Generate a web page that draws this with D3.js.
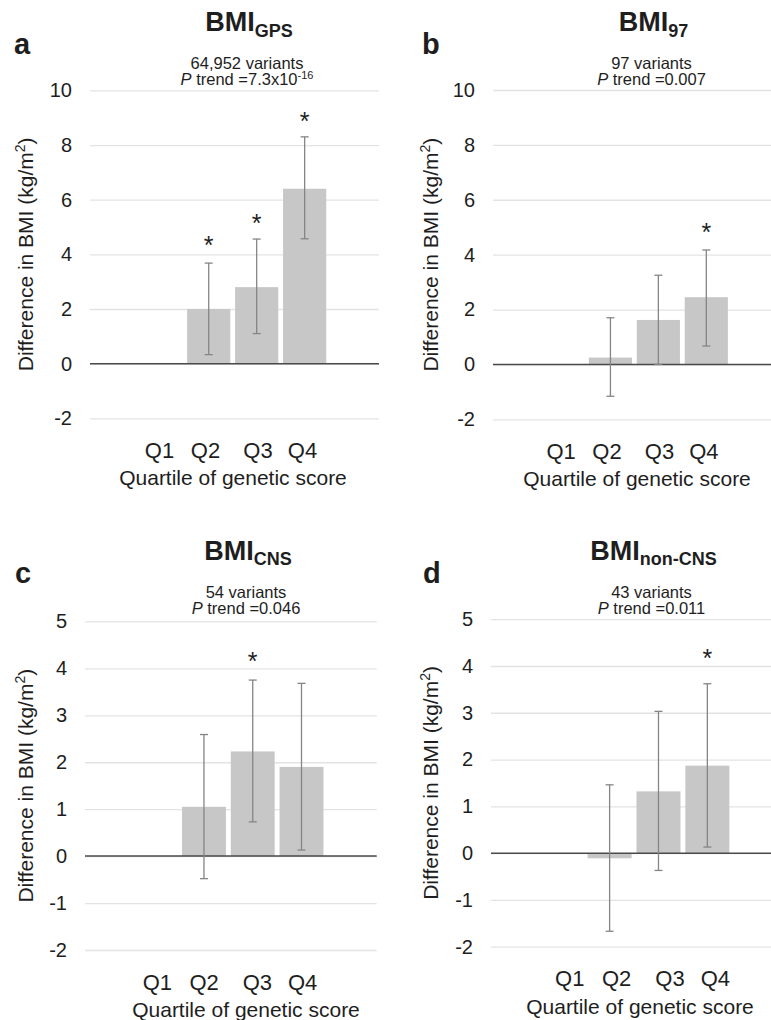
<!DOCTYPE html>
<html><head><meta charset="utf-8">
<script src="https://cdn.jsdelivr.net/npm/d3@7"></script>
<style>
body{margin:0;background:#fff}
svg{display:block}
text{font-family:"Liberation Sans",Arial,Helvetica,sans-serif;fill:#1e1e1e}
</style>
</head><body>
<svg id="chart" width="771" height="1020"></svg>
<script>
// ---------- data ----------
const categories = ["Q1", "Q2", "Q3", "Q4"];
const panelLetters = ["a", "b", "c", "d"];
const titleSub = ["GPS", "97", "CNS", "non-CNS"];
const variantLabels = ["64,952 variants", "97 variants", "54 variants", "43 variants"];
const pTrendValues = ["=7.3x10", "=0.007", "=0.046", "=0.011"];
const pTrendExp = ["-16", "", "", ""];
const yTicksTop = [-2, 0, 2, 4, 6, 8, 10];
const yTicksBottom = [-2, -1, 0, 1, 2, 3, 4, 5];
const xAxisTitle = "Quartile of genetic score";

const valuesGPS = [0, 2.0, 2.8, 6.4];
const lowerGPS  = [null, 0.33, 1.1, 4.57];
const upperGPS  = [null, 3.68, 4.56, 8.3];
const starsGPS  = [null, 4.44, 5.25, 9.0];

const values97 = [0, 0.25, 1.62, 2.45];
const lower97  = [null, -1.16, 0.0, 0.67];
const upper97  = [null, 1.7, 3.25, 4.17];
const stars97  = [null, null, null, 4.93];

const valuesCNS = [0, 1.05, 2.23, 1.90];
const lowerCNS  = [null, -0.48, 0.73, 0.13];
const upperCNS  = [null, 2.59, 3.75, 3.68];
const starsCNS  = [null, null, 4.23, null];

const valuesNonCNS = [0, -0.11, 1.32, 1.87];
const lowerNonCNS  = [null, -1.67, -0.37, 0.13];
const upperNonCNS  = [null, 1.46, 3.03, 3.62];
const starsNonCNS  = [null, null, null, 4.24];

// ---------- layout ----------
const panels = [
  {v: valuesGPS, lo: lowerGPS, hi: upperGPS, st: starsGPS, ticks: yTicksTop, dom: [-2, 10],
   gx: [90, 379], bx: [91.2, 374.2], yr: [418.3, 90.4], letter: [14, 54], titleX: 249, titleY: 31,
   subY: [69, 85], axX: 26, xlabDx: -1.2, xTitleX: 233},
  {v: values97, lo: lower97, hi: upper97, st: stars97, ticks: yTicksTop, dom: [-2, 10],
   gx: [493, 771], bx: [493, 775.8], yr: [419.3, 90], letter: [422, 54], titleX: 653.5, titleY: 31,
   subY: [69, 85], axX: 431, xlabDx: -1.4, xTitleX: 637},
  {v: valuesCNS, lo: lowerCNS, hi: upperCNS, st: starsCNS, ticks: yTicksBottom, dom: [-2, 5],
   gx: [85, 376.7], bx: [84.5, 372.2], yr: [950, 621.4], letter: [15, 583], titleX: 248, titleY: 559.5,
   subY: [597.5, 613.5], axX: 26, xlabDx: 2.1, xTitleX: 246},
  {v: valuesNonCNS, lo: lowerNonCNS, hi: upperNonCNS, st: starsNonCNS, ticks: yTicksBottom, dom: [-2, 5],
   gx: [491, 771], bx: [489.9, 778.2], yr: [946.7, 619.2], letter: [423, 583], titleX: 653.5, titleY: 559.5,
   subY: [597.5, 613.5], axX: 431, xlabDx: 9, xTitleX: 640}
];
const labelNudge = [0, -2, 2.5, -1];

const svg = d3.select("#chart");

panels.forEach((p, i) => {
  const g = svg.append("g");
  const x = d3.scaleBand().domain(categories).range(p.bx).paddingInner(0.1).paddingOuter(1.0);
  const y = d3.scaleLinear().domain(p.dom).range(p.yr);

  // grid + tick labels via axis
  const axis = d3.axisLeft(y).tickValues(p.ticks).tickSize(-(p.gx[1] - p.gx[0])).tickPadding(18)
    .tickFormat(d => String(d));
  const ag = g.append("g").attr("transform", `translate(${p.gx[0]},0)`).call(axis);
  ag.select(".domain").remove();
  ag.selectAll(".tick line").attr("stroke", "#e3e3e3").attr("stroke-width", 1.3);
  ag.selectAll(".tick text").attr("font-size", 20).attr("fill", "#1e1e1e")
    .style("font-family", '"Liberation Sans",Arial,sans-serif');

  // bars
  g.selectAll("rect.bar").data(categories.map((c, k) => ({c, v: p.v[k]})))
    .enter().append("rect")
    .attr("x", d => x(d.c))
    .attr("width", x.bandwidth())
    .attr("y", d => y(Math.max(0, d.v)))
    .attr("height", d => Math.abs(y(d.v) - y(0)))
    .attr("fill", "#c7c7c7");

  // zero line
  g.append("line").attr("x1", p.gx[0]).attr("x2", p.gx[1]).attr("y1", y(0)).attr("y2", y(0))
    .attr("stroke", "#4a4a4a").attr("stroke-width", 1.5);

  // error bars
  const err = categories.map((c, k) => ({c, lo: p.lo[k], hi: p.hi[k]})).filter(d => d.lo !== null);
  const eg = g.selectAll("g.err").data(err).enter().append("g")
    .attr("stroke", "#858585").attr("stroke-width", 1.3);
  eg.append("line").attr("x1", d => x(d.c) + x.bandwidth() / 2).attr("x2", d => x(d.c) + x.bandwidth() / 2)
    .attr("y1", d => y(d.lo)).attr("y2", d => y(d.hi));
  eg.append("line").attr("x1", d => x(d.c) + x.bandwidth() / 2 - 4).attr("x2", d => x(d.c) + x.bandwidth() / 2 + 4)
    .attr("y1", d => y(d.hi)).attr("y2", d => y(d.hi));
  eg.append("line").attr("x1", d => x(d.c) + x.bandwidth() / 2 - 4).attr("x2", d => x(d.c) + x.bandwidth() / 2 + 4)
    .attr("y1", d => y(d.lo)).attr("y2", d => y(d.lo));

  // significance stars
  const stars = categories.map((c, k) => ({c, s: p.st[k]})).filter(d => d.s !== null);
  g.selectAll("text.star").data(stars).enter().append("text")
    .attr("x", d => x(d.c) + x.bandwidth() / 2)
    .attr("y", d => y(d.s) + 12)
    .attr("text-anchor", "middle").attr("font-size", 25).text("*");

  // x labels
  g.selectAll("text.xl").data(categories).enter().append("text")
    .attr("x", (d, k) => x(d) + x.bandwidth() / 2 + p.xlabDx + labelNudge[k])
    .attr("y", p.yr[0] + 39.5)
    .attr("text-anchor", "middle").attr("font-size", 22).text(d => d);
  g.append("text").attr("x", p.xTitleX).attr("y", p.yr[0] + 67)
    .attr("text-anchor", "middle").attr("font-size", 21).text(xAxisTitle);

  // y axis title
  const yc = (p.yr[0] + p.yr[1]) / 2;
  const yt = g.append("text").attr("transform", `translate(${p.axX + 7},${yc}) rotate(-90)`)
    .attr("text-anchor", "middle").attr("font-size", 21);
  yt.append("tspan").text("Difference in BMI (kg/m");
  yt.append("tspan").attr("font-size", 14).attr("dy", -8).text("2");
  yt.append("tspan").attr("dy", 8).text(")");

  // panel letter
  g.append("text").attr("x", p.letter[0]).attr("y", p.letter[1])
    .attr("font-size", 29).attr("font-weight", "bold").text(panelLetters[i]);

  // title
  const tt = g.append("text").attr("x", p.titleX).attr("y", p.titleY)
    .attr("text-anchor", "middle").attr("font-weight", "bold").attr("font-size", 27);
  tt.append("tspan").text("BMI");
  tt.append("tspan").attr("font-size", 18).attr("dy", 5.5).text(titleSub[i]);

  // subtitle
  g.append("text").attr("x", p.titleX - 2).attr("y", p.subY[0]).attr("text-anchor", "middle")
    .attr("font-size", 16.5).text(variantLabels[i]);
  const pt = g.append("text").attr("x", p.titleX - 2).attr("y", p.subY[1]).attr("text-anchor", "middle")
    .attr("font-size", 16.5);
  pt.append("tspan").attr("font-style", "italic").text("P");
  pt.append("tspan").text(" trend " + pTrendValues[i]);
  if (pTrendExp[i]) pt.append("tspan").attr("font-size", 11).attr("dy", -6).text(pTrendExp[i]);
});
</script>
</body></html>
